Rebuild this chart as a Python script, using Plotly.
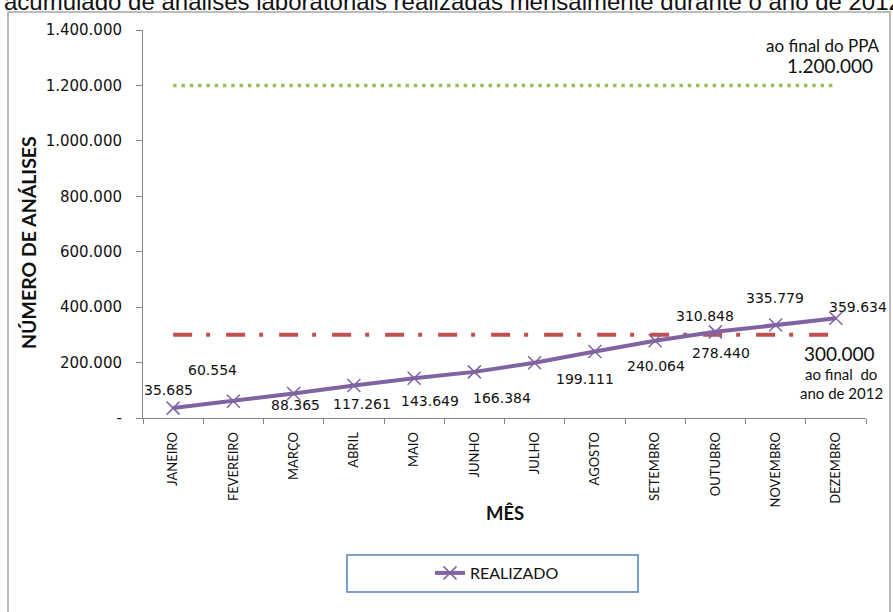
import plotly.graph_objects as go

meses = ["JANEIRO", "FEVEREIRO", "MARÇO", "ABRIL", "MAIO", "JUNHO", "JULHO",
         "AGOSTO", "SETEMBRO", "OUTUBRO", "NOVEMBRO", "DEZEMBRO"]
realizado = [35685, 60554, 88365, 117261, 143649, 166384, 199111,
             240064, 278440, 310848, 335779, 359634]
meta_ppa = [1200000] * 12
meta_2012 = [300000] * 12
rotulos = ["35.685", "60.554", "88.365", "117.261", "143.649", "166.384",
           "199.111", "240.064", "278.440", "310.848", "335.779", "359.634"]
y_tickvals = [0, 200000, 400000, 600000, 800000, 1000000, 1200000, 1400000]
y_ticktext = ["-", "200.000", "400.000", "600.000", "800.000",
              "1.000.000", "1.200.000", "1.400.000"]
# label offsets (px): dx right, dy down
label_dx = [-5, -21, 2, 8, 16, 28, 50, 61, 66, -10, -1, 22]
label_dy = [-18, -31, 11, 18, 23, 26, 16, 15, 12, -16, -27, -11]

PURPLE = "#8064A2"
RED = "#C0504D"
GREEN = "#9BBB59"

W, H = 893, 612
L, R, T, B = 143, 866, 30, 418
pw, ph = R - L, B - T

def px(x):
    return (x - L) / pw

def py(y):
    return (B - y) / ph

fig = go.Figure()
fig.add_trace(go.Scatter(x=meses, y=meta_ppa, mode="lines", showlegend=False,
                         line=dict(color=GREEN, width=3.5, dash="3.5px,4.8px"),
                         hoverinfo="skip"))
fig.add_trace(go.Scatter(x=meses, y=meta_2012, mode="lines", showlegend=False,
                         line=dict(color=RED, width=4, dash="19px,14px,4px,16px"),
                         hoverinfo="skip"))
fig.add_trace(go.Scatter(x=meses, y=realizado, mode="lines+markers", name="REALIZADO",
                         line=dict(color=PURPLE, width=4),
                         marker=dict(symbol="x-thin", size=13,
                                     line=dict(color=PURPLE, width=1.5), color=PURPLE)))

ann = []
for m, v, t, dx, dy in zip(meses, realizado, rotulos, label_dx, label_dy):
    ann.append(dict(x=m, y=v, xref="x", yref="y", text=t, showarrow=False,
                    xshift=dx, yshift=-dy,
                    font=dict(family="DejaVu Sans", size=14, color="#111111")))

def txt(x, y, text, size, xanchor="center", family="Lato", angle=0):
    return dict(x=px(x), y=py(y), xref="paper", yref="paper", text=text,
                showarrow=False, xanchor=xanchor, yanchor="middle", textangle=angle,
                font=dict(family=family, size=size, color="#111"))

ann += [
    txt(882, 46, "ao final do PPA", 17, "right"),
    txt(875, 65, "1.200.000", 19, "right"),
    txt(839, 353, "300.000", 19),
    txt(841, 374, "ao final  do", 15),
    txt(841, 393, "ano de 2012", 15),
    txt(28, 243, "<b>NÚMERO DE ANÁLISES</b>", 19.5, angle=-90),
    txt(505, 513, "<b>MÊS</b>", 18.5),
    dict(x=0, y=py(1), xref="paper", yref="paper", xanchor="left", yanchor="middle",
         xshift=-(L - 2),
         text="acumulado de análises laboratoriais realizadas mensalmente durante o ano de 2012",
         showarrow=False, font=dict(family="Liberation Sans", size=24, color="#111")),
]

shapes = [
    dict(type="rect", xref="paper", yref="paper", x0=px(8), x1=px(890),
         y0=py(12), y1=py(660), line=dict(color="#A6A6A6", width=1.5), layer="below"),
    dict(type="rect", xref="paper", yref="paper", x0=px(347), x1=px(638),
         y0=py(555), y1=py(592), line=dict(color="#4F81BD", width=1.5)),
]

fig.update_layout(
    width=W, height=H,
    margin=dict(l=L, r=W - R, t=T, b=H - B, autoexpand=False),
    paper_bgcolor="white", plot_bgcolor="white",
    separators=",.",
    annotations=ann, shapes=shapes,
    showlegend=True,
    legend=dict(x=px(430), y=py(573), xanchor="left", yanchor="middle",
                orientation="h", bgcolor="rgba(0,0,0,0)",
                font=dict(family="Lato", size=16, color="#111")),
    xaxis=dict(type="category", range=[-0.5, 11.5], showgrid=False,
               showline=True, linecolor="#868686", linewidth=1,
               ticks="outside", tickson="boundaries", ticklen=5, tickcolor="#868686",
               tickangle=-90, ticklabelstandoff=8,
               tickfont=dict(family="Lato", size=13, color="#111")),
    yaxis=dict(range=[0, 1400000], showgrid=False, zeroline=False,
               showline=True, linecolor="#868686", linewidth=1,
               ticks="outside", ticklen=6, tickcolor="#868686",
               ticklabelstandoff=11,
               tickvals=y_tickvals, ticktext=y_ticktext,
               tickfont=dict(family="DejaVu Sans", size=15, color="#111")),
)

fig.write_html("out.html", config={"displayModeBar": False},
               post_script="document.body.style.margin='0px';document.body.style.overflow='hidden';")
